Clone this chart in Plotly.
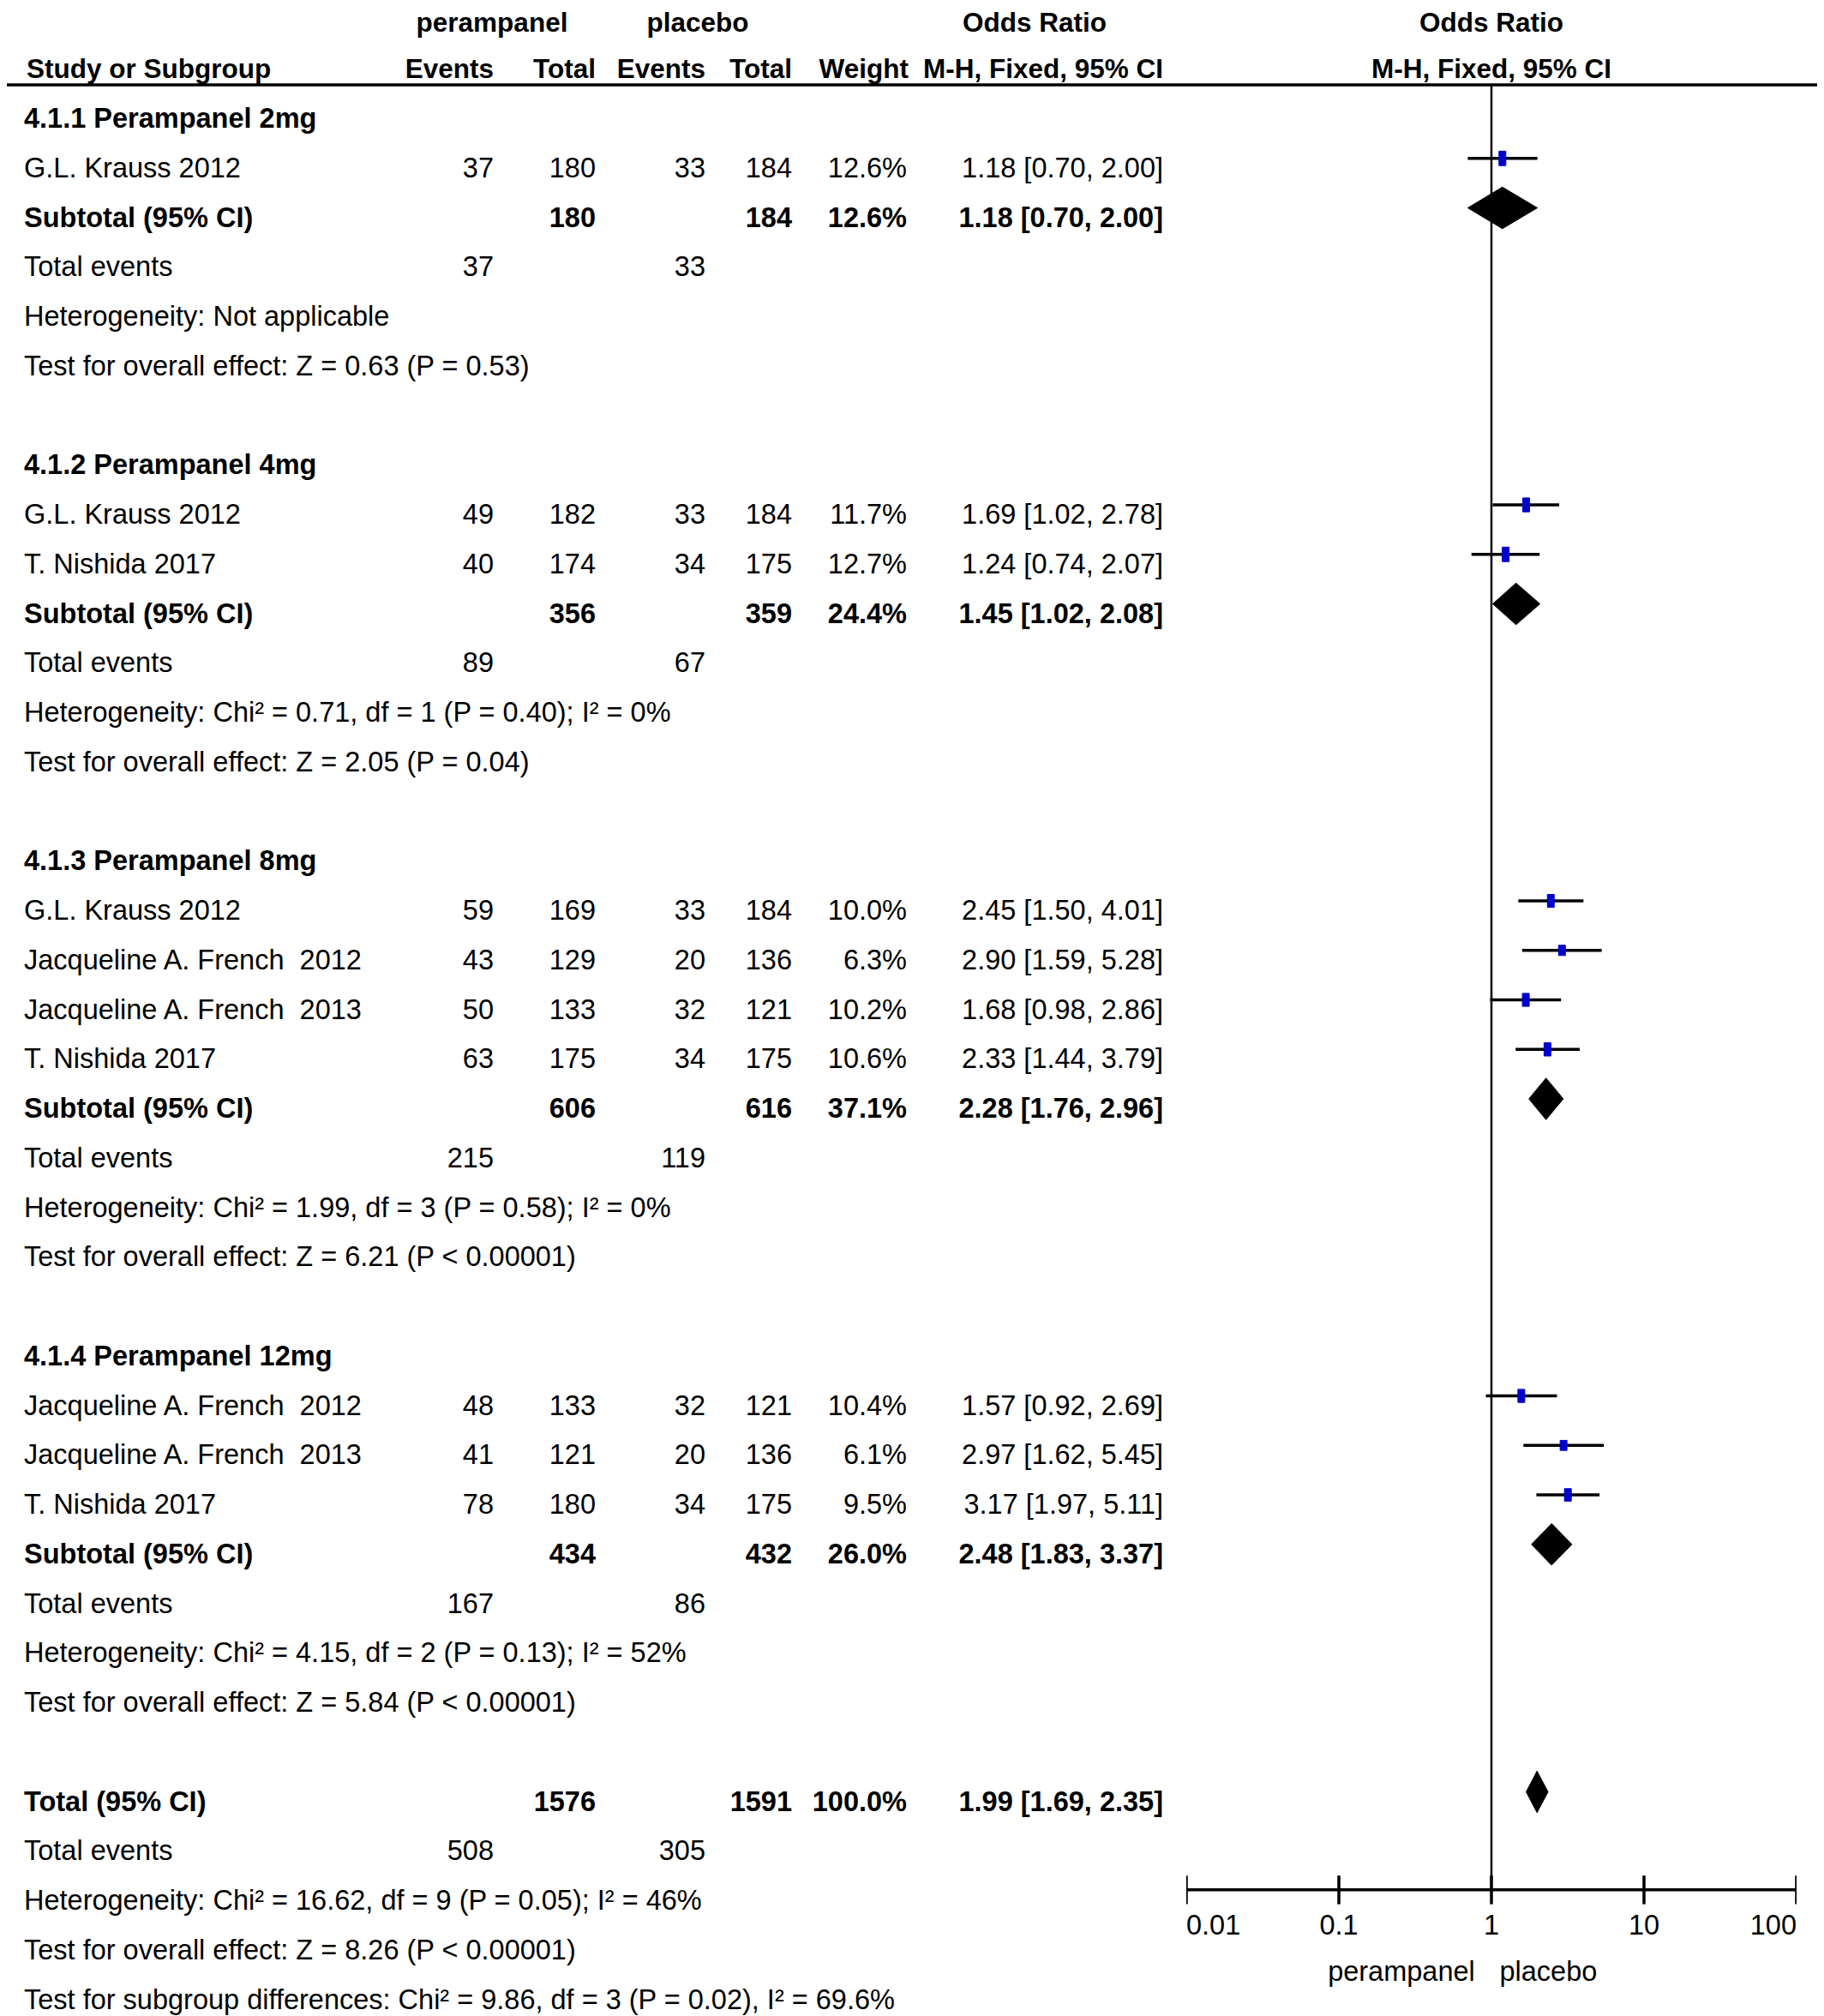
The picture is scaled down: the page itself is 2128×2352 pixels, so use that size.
import plotly.graph_objects as go

W, H = 2128, 2352

# ---------------- data ----------------
group_titles = ["4.1.1 Perampanel 2mg", "4.1.2 Perampanel 4mg",
                "4.1.3 Perampanel 8mg", "4.1.4 Perampanel 12mg"]

study_group = [0, 1, 1, 2, 2, 2, 2, 3, 3, 3]
study_names = ["G.L. Krauss 2012",
               "G.L. Krauss 2012", "T. Nishida 2017",
               "G.L. Krauss 2012", "Jacqueline A. French\u00a0 2012",
               "Jacqueline A. French\u00a0 2013", "T. Nishida 2017",
               "Jacqueline A. French\u00a0 2012", "Jacqueline A. French\u00a0 2013",
               "T. Nishida 2017"]
exp_events = [37, 49, 40, 59, 43, 50, 63, 48, 41, 78]
exp_total = [180, 182, 174, 169, 129, 133, 175, 133, 121, 180]
ctl_events = [33, 33, 34, 33, 20, 32, 34, 32, 20, 34]
ctl_total = [184, 184, 175, 184, 136, 121, 175, 121, 136, 175]
weight = [12.6, 11.7, 12.7, 10.0, 6.3, 10.2, 10.6, 10.4, 6.1, 9.5]
or_est = [1.18, 1.69, 1.24, 2.45, 2.90, 1.68, 2.33, 1.57, 2.97, 3.17]
or_lo = [0.70, 1.02, 0.74, 1.50, 1.59, 0.98, 1.44, 0.92, 1.62, 1.97]
or_hi = [2.00, 2.78, 2.07, 4.01, 5.28, 2.86, 3.79, 2.69, 5.45, 5.11]

sub_exp_total = [180, 356, 606, 434]
sub_ctl_total = [184, 359, 616, 432]
sub_weight = [12.6, 24.4, 37.1, 26.0]
sub_or = [1.18, 1.45, 2.28, 2.48]
sub_lo = [0.70, 1.02, 1.76, 1.83]
sub_hi = [2.00, 2.08, 2.96, 3.37]
sub_exp_events = [37, 89, 215, 167]
sub_ctl_events = [33, 67, 119, 86]
sub_het = ["Heterogeneity: Not applicable",
           "Heterogeneity: Chi\u00b2 = 0.71, df = 1 (P = 0.40); I\u00b2 = 0%",
           "Heterogeneity: Chi\u00b2 = 1.99, df = 3 (P = 0.58); I\u00b2 = 0%",
           "Heterogeneity: Chi\u00b2 = 4.15, df = 2 (P = 0.13); I\u00b2 = 52%"]
sub_test = ["Test for overall effect: Z = 0.63 (P = 0.53)",
            "Test for overall effect: Z = 2.05 (P = 0.04)",
            "Test for overall effect: Z = 6.21 (P < 0.00001)",
            "Test for overall effect: Z = 5.84 (P < 0.00001)"]

tot_exp_total = 1576
tot_ctl_total = 1591
tot_weight = 100.0
tot_or, tot_lo, tot_hi = 1.99, 1.69, 2.35
tot_exp_events = 508
tot_ctl_events = 305
tot_het = "Heterogeneity: Chi\u00b2 = 16.62, df = 9 (P = 0.05); I\u00b2 = 46%"
tot_test = "Test for overall effect: Z = 8.26 (P < 0.00001)"
tot_subgroup = "Test for subgroup differences: Chi\u00b2 = 9.86, df = 3 (P = 0.02), I\u00b2 = 69.6%"

tick_vals = [0.01, 0.1, 1, 10, 100]
tick_labels = ["0.01", "0.1", "1", "10", "100"]
favours = ["perampanel", "placebo"]

# ---------------- layout constants ----------------
FONT = "Liberation Sans, Arial, sans-serif"
FS = 32.5
FS_H = 31.5
OFF = 8                     # page body margin of the browser
ROW0_PX = 138.0             # screen y of row 0
ROW_PX = 57.75              # row pitch in px
K_TOP = -(ROW0_PX - OFF) / ROW_PX
K_BOT = (H - ROW0_PX + OFF) / ROW_PX
X_LABEL = 28
X_EE, X_ET, X_CE, X_CT, X_W, X_OR = 576, 695, 823, 924, 1058, 1357
FOREST_L, FOREST_R = 1384, 2096   # screen px of 0.01 and 100
PX_PER_DEC = (FOREST_R - FOREST_L) / 4.0
K_HEADLINE = -0.675
K_AXIS = 35.79
K_HEAD1 = -1.88
TY = 0.05           # text nudge
DY = -0.19          # marks sit slightly above text centre
DIA_H = 0.42
BLUE = "#0000CC"


def b(s):
    return f"<b>{s}</b>"


def fmt_ci(e, lo, hi):
    return f"{e:.2f} [{lo:.2f}, {hi:.2f}]"


cols = {c: ([], []) for c in ["lab", "ee", "et", "ce", "ct", "w", "or"]}


def put(col, k, t):
    cols[col][0].append(k + TY)
    cols[col][1].append(t)


ci_rows = []
dia_rows = []
k = 0
for g in range(len(group_titles)):
    put("lab", k, b(group_titles[g]))
    k += 1
    for i, sg in enumerate(study_group):
        if sg != g:
            continue
        put("lab", k, study_names[i])
        put("ee", k, str(exp_events[i]))
        put("et", k, str(exp_total[i]))
        put("ce", k, str(ctl_events[i]))
        put("ct", k, str(ctl_total[i]))
        put("w", k, f"{weight[i]:.1f}%")
        put("or", k, fmt_ci(or_est[i], or_lo[i], or_hi[i]))
        ci_rows.append((k, or_est[i], or_lo[i], or_hi[i], weight[i]))
        k += 1
    put("lab", k, b("Subtotal (95% CI)"))
    put("et", k, b(sub_exp_total[g]))
    put("ct", k, b(sub_ctl_total[g]))
    put("w", k, b(f"{sub_weight[g]:.1f}%"))
    put("or", k, b(fmt_ci(sub_or[g], sub_lo[g], sub_hi[g])))
    dia_rows.append((k, sub_or[g], sub_lo[g], sub_hi[g]))
    k += 1
    put("lab", k, "Total events")
    put("ee", k, str(sub_exp_events[g]))
    put("ce", k, str(sub_ctl_events[g]))
    k += 1
    put("lab", k, sub_het[g])
    k += 1
    put("lab", k, sub_test[g])
    k += 2

put("lab", k, b("Total (95% CI)"))
put("et", k, b(tot_exp_total))
put("ct", k, b(tot_ctl_total))
put("w", k, b(f"{tot_weight:.1f}%"))
put("or", k, b(fmt_ci(tot_or, tot_lo, tot_hi)))
dia_rows.append((k, tot_or, tot_lo, tot_hi))
k += 1
put("lab", k, "Total events")
put("ee", k, str(tot_exp_events))
put("ce", k, str(tot_ctl_events))
k += 1
put("lab", k, tot_het)
k += 1
put("lab", k, tot_test)
k += 1
put("lab", k, tot_subgroup)

fig = go.Figure()


def text_trace(xs, ys, texts, pos, xaxis="x", size=FS):
    fig.add_trace(go.Scatter(x=xs, y=ys, text=texts, mode="text",
                             textposition=pos,
                             textfont=dict(family=FONT, size=size, color="#000000"),
                             xaxis=xaxis, yaxis="y", cliponaxis=False,
                             hoverinfo="skip", showlegend=False))


def line_trace(xs, ys, width, xaxis="x2", color="black"):
    fig.add_trace(go.Scatter(x=xs, y=ys, mode="lines",
                             line=dict(color=color, width=width),
                             xaxis=xaxis, yaxis="y", cliponaxis=False,
                             hoverinfo="skip", showlegend=False))


# header rows
text_trace([574, 814, 1207], [K_HEAD1] * 3,
           [b("perampanel"), b("placebo"), b("Odds Ratio")], "middle center", size=FS_H)
text_trace([31], [-1 + TY], [b("Study or Subgroup")], "middle right", size=FS_H)
text_trace([X_EE, X_ET, X_CE, X_CT, X_W + 2, X_OR], [-1 + TY] * 6,
           [b("Events"), b("Total"), b("Events"), b("Total"), b("Weight"),
            b("M-H, Fixed, 95% CI")], "middle left", size=FS_H)
text_trace([1, 1], [K_HEAD1, -1 + TY], [b("Odds Ratio"), b("M-H, Fixed, 95% CI")],
           "middle center", xaxis="x2", size=FS_H)

# table body
text_trace([X_LABEL] * len(cols["lab"][0]), cols["lab"][0], cols["lab"][1], "middle right")
for c, xp in [("ee", X_EE), ("et", X_ET), ("ce", X_CE), ("ct", X_CT), ("w", X_W), ("or", X_OR)]:
    text_trace([xp] * len(cols[c][0]), cols[c][0], cols[c][1], "middle left")

# header rule
line_trace([4, 2124], [K_HEADLINE, K_HEADLINE], 3.5, xaxis="x")

# null line
line_trace([1, 1], [K_HEADLINE, K_AXIS], 2.5)

# CI lines
cx, cy = [], []
for (kk, e, lo, hi, w) in ci_rows:
    cx += [lo, hi, None]
    cy += [kk + DY, kk + DY, None]
line_trace(cx, cy, 3.5)

# study squares (blue), size from weight
sx, sy = [], []
for (kk, e, lo, hi, w) in ci_rows:
    f = 10 ** (4.0 / PX_PER_DEC)
    hh = 7.5 * (w / 10.0) ** 0.5 / ROW_PX
    yc = kk + DY
    sx += [e / f, e * f, e * f, e / f, e / f, None]
    sy += [yc - hh, yc - hh, yc + hh, yc + hh, yc - hh, None]
fig.add_trace(go.Scatter(x=sx, y=sy, mode="lines", fill="toself", fillcolor=BLUE,
                         line=dict(color=BLUE, width=1), xaxis="x2", yaxis="y",
                         hoverinfo="skip", showlegend=False))

# diamonds
dx, dy = [], []
for (kk, e, lo, hi) in dia_rows:
    yc = kk + DY
    dx += [lo, e, hi, e, lo, None]
    dy += [yc, yc - DIA_H, yc, yc + DIA_H, yc, None]
fig.add_trace(go.Scatter(x=dx, y=dy, mode="lines", fill="toself", fillcolor="black",
                         line=dict(color="black", width=1), xaxis="x2", yaxis="y",
                         hoverinfo="skip", showlegend=False))

# forest x axis (drawn from tick values)
ax_x = [tick_vals[0], tick_vals[-1], None]
ax_y = [K_AXIS, K_AXIS, None]
for tv in tick_vals:
    ax_x += [tv, tv, None]
    ax_y += [K_AXIS - 0.29, K_AXIS + 0.29, None]
line_trace(ax_x, ax_y, 3.5)
tpos = ["middle right"] + ["middle center"] * (len(tick_vals) - 2) + ["middle left"]
text_trace(tick_vals, [36.5 + TY] * len(tick_vals), tick_labels, tpos, xaxis="x2")
text_trace([0.78, 1.13], [37.44 + TY] * 2, favours, ["middle left", "middle right"], xaxis="x2")

fig.update_layout(
    width=W, height=H, margin=dict(l=0, r=0, t=0, b=0),
    paper_bgcolor="white", plot_bgcolor="rgba(0,0,0,0)",
    xaxis=dict(range=[OFF, W + OFF], domain=[0, 1], visible=False, fixedrange=True),
    xaxis2=dict(type="log", range=[-2, 2],
                domain=[(FOREST_L - OFF) / W, (FOREST_R - OFF) / W],
                anchor="y", visible=False, fixedrange=True),
    yaxis=dict(range=[K_BOT, K_TOP], domain=[0, 1], visible=False, fixedrange=True),
    showlegend=False,
)

fig.write_html("out.html")
